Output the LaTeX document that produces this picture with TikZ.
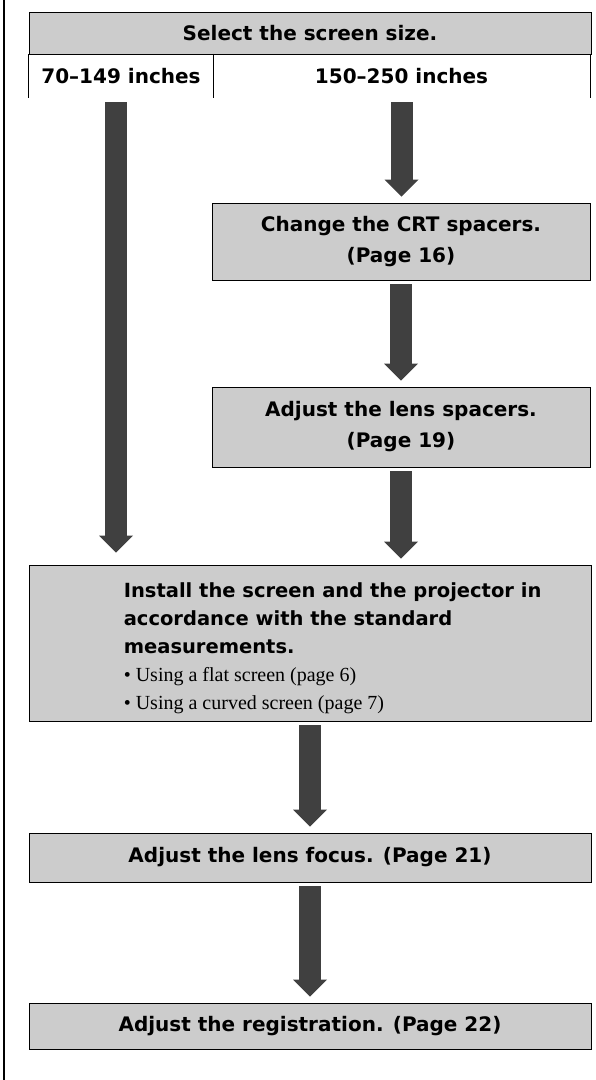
\documentclass[tikz,border=0pt]{standalone}
\usepackage{fontspec}
\setmainfont{DejaVu Sans}
\newfontfamily\bulletfont{Liberation Serif}
\usetikzlibrary{arrows.meta}
\usepackage{xcolor}
\definecolor{boxgray}{gray}{0.8}
\definecolor{arrowgray}{gray}{0.25}

\begin{document}
\begin{tikzpicture}[x=1pt, y=-1pt,
    box/.style = {draw=black, fill=boxgray, line width=0.8pt,
                inner sep=0pt, minimum height=#1, align=center,
                font=\fontsize{20}{31}\selectfont\bfseries},
    box/.default = 42pt,  % height of a one line box
    cell/.style = {inner sep=0pt, minimum height=44pt,
                font=\fontsize{20}{24}\selectfont\bfseries},
    flow/.style = {draw=arrowgray, line width=22pt,
                -{Triangle[width=34pt, length=17pt, line width'=0pt]},
                shorten <=4pt, shorten >=6pt}
                    ]
    \def\wide{562pt}
    \def\narrow{378pt}
    \def\lx{310}
    \def\rx{401}
    \useasboundingbox (0,0) rectangle (595,1080);
    \draw[line width=1.2pt] (4,0) -- (4,1080);
    \node[box, minimum width=\wide] at (\lx,33) (sel) {Select the screen size.};
    \node[cell, minimum width=184pt] at (121,76) (lo) {70--149 inches};
    \node[cell, minimum width=377pt] at (401.5,76) (hi) {150--250 inches};
    \draw[line width=0.8pt] (lo.north west) -- (lo.south west);
    \draw[line width=0.8pt] (lo.north east) -- (lo.south east);
    \draw[line width=0.8pt] (hi.north east) -- (hi.south east);
    \node[box=77pt, minimum width=\narrow] at (\rx,241.5) (crt)
        {Change the CRT spacers.\\(Page 16)};
    \node[box=80pt, minimum width=\narrow] at (\rx,427) (lens)
        {Adjust the lens spacers.\\(Page 19)};
    \node[box=156pt, minimum width=\wide] at (\lx,643) (inst) {};
    \node[anchor=west, inner sep=0pt, align=left,
        font=\fontsize{19.5}{28}\selectfont\bfseries]
        at ([xshift=95pt, yshift=-5pt]inst.west) (insttext)
        {Install the screen and the projector in\\
         accordance with the standard\\
         measurements.\\
         {\bulletfont\mdseries\fontsize{20}{28}\selectfont
          \textbullet\ Using a flat screen (page 6)}\\
         {\bulletfont\mdseries\fontsize{20}{28}\selectfont
          \textbullet\ Using a curved screen (page 7)}};
    \node[box=49pt, minimum width=\wide] at (\lx,857.5) (focus)
        {Adjust the lens focus. (Page 21)};
    \node[box=46pt, minimum width=\wide] at (\lx,1026) (reg)
        {Adjust the registration. (Page 22)};
    % arrows
    \draw[flow, shorten >=12pt] ([xshift=-5pt]lo.south) -- ([xshift=-5pt]lo.south |- inst.north);
    \draw[flow] (hi.south) -- (hi.south |- crt.north);
    \draw[flow] (crt.south) -- (lens.north);
    \draw[flow] (lens.south) -- (lens.south |- inst.north);
    \draw[flow] (inst.south) -- (focus.north);
    \draw[flow] (focus.south) -- (reg.north);
\end{tikzpicture}
\end{document}
